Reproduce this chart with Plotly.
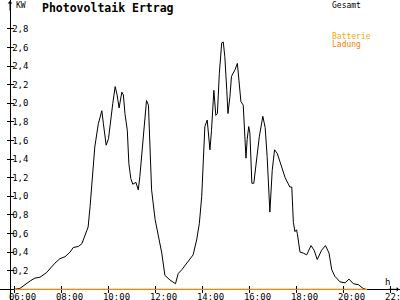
import plotly.graph_objects as go

# ---- data ----
zeit = ["06:00","06:14","06:40","06:52","07:05","07:22","07:43","07:56","08:09","08:22",
        "08:30","08:43","08:52","09:04","09:08","09:13","09:17","09:21","09:25","09:34",
        "09:43","09:47","09:54","10:00","10:04","10:11","10:17","10:22","10:27","10:34",
        "10:38","10:42","10:48","10:52","10:57","11:02","11:10","11:16","11:20","11:27",
        "11:33","11:37","11:42","11:46","11:50","11:59","12:07","12:16","12:24","12:37",
        "12:51","12:58","13:07","13:20","13:36","13:45","13:52","13:58","14:02","14:06",
        "14:12","14:19","14:23","14:26","14:29","14:34","14:38","14:43","14:49","14:53",
        "14:57","15:02","15:05","15:10","15:14","15:23","15:29","15:33","15:38","15:44",
        "15:48","15:51","15:54","15:58","16:01","16:06","16:11","16:18","16:25","16:34",
        "16:40","16:45","16:52","16:58","17:04","17:11","17:18","17:31","17:43","17:48",
        "17:52","17:56","18:00","18:02","18:09","18:17","18:26","18:37","18:45","18:53",
        "19:04","19:14","19:23","19:30","19:38","19:51","20:04","20:14","20:25","20:38",
        "20:50","20:57"]
gesamt = [0.00,0.01,0.09,0.12,0.13,0.18,0.28,0.33,0.35,0.40,
          0.45,0.46,0.49,0.62,0.67,0.89,1.10,1.32,1.53,1.78,
          1.92,1.78,1.55,1.62,1.78,2.00,2.18,2.09,1.95,2.12,
          2.09,1.89,1.71,1.35,1.19,1.13,1.15,1.07,1.21,1.53,
          1.86,2.03,1.98,1.53,1.07,0.75,0.57,0.39,0.15,0.10,
          0.06,0.17,0.21,0.28,0.37,0.53,0.71,1.00,1.35,1.75,
          1.82,1.50,1.71,1.93,2.14,1.87,1.89,2.32,2.65,2.66,
          2.50,2.14,1.89,2.07,2.29,2.36,2.43,2.25,2.02,1.98,
          1.71,1.41,1.61,1.75,1.68,1.14,1.14,1.41,1.64,1.86,
          1.74,1.43,0.83,1.28,1.50,1.46,1.36,1.20,1.10,1.10,
          0.72,0.62,0.64,0.60,0.40,0.39,0.37,0.47,0.42,0.32,
          0.42,0.47,0.39,0.21,0.14,0.08,0.07,0.11,0.06,0.05,
          0.01,0.00]

ladung_zeit = ["06:00", "21:00"]
ladung = [0.0, 0.0]

x_tickvals = [6, 8, 10, 12, 14, 16, 18, 20, 22]
x_ticktext = ["06:00","08:00","10:00","12:00","14:00","16:00","18:00","20:00","22:00"]
y_tickvals = [0.2,0.4,0.6,0.8,1.0,1.2,1.4,1.6,1.8,2.0,2.2,2.4,2.6,2.8]
y_ticktext = ["0,2","0,4","0,6","0,8","1,0","1,2","1,4","1,6","1,8","2,0","2,2","2,4","2,6","2,8"]


def to_h(t):
    h, m = t.split(":")
    return int(h) + int(m) / 60.0


FONT = "DejaVu Sans Mono"
XR = [5.383, 22.404]
YR = [-0.115, 3.111]
XPOS = 10 / 400
YPOS = 10.7 / 300

fig = go.Figure()
fig.add_trace(go.Scatter(x=[to_h(t) for t in zeit], y=gesamt, mode="lines",
                         line=dict(color="black", width=1), showlegend=False,
                         hoverinfo="skip"))
fig.add_trace(go.Scatter(x=[to_h(t) for t in ladung_zeit], y=ladung, mode="lines",
                         line=dict(color="#ff8000", width=1.3), showlegend=False,
                         hoverinfo="skip"))
# dummy trace to show overlay axes (inner half of crossing ticks)
fig.add_trace(go.Scatter(x=[6], y=[0], xaxis="x2", yaxis="y2", mode="markers",
                         marker=dict(opacity=0), showlegend=False, hoverinfo="skip"))

axfont = dict(family=FONT, size=9, color="black")
fig.update_layout(
    template="none",
    width=400, height=300,
    margin=dict(l=0, r=0, t=0, b=0, pad=0),
    paper_bgcolor="white", plot_bgcolor="white",
    xaxis=dict(range=XR, anchor="free", position=YPOS, showline=True,
               linecolor="black", linewidth=1, ticks="outside", ticklen=3,
               tickcolor="black", tickvals=x_tickvals, ticktext=x_ticktext,
               tickfont=axfont, ticklabelshift=8, ticklabelstandoff=-4,
               ticklabeloverflow="allow", automargin=False, layer="below traces",
               showgrid=False, zeroline=False, fixedrange=True),
    yaxis=dict(range=YR, anchor="free", position=XPOS, showline=True,
               linecolor="black", linewidth=1, ticks="outside", ticklen=3,
               tickcolor="black", tickvals=y_tickvals, ticktext=y_ticktext,
               tickfont=axfont, ticklabelposition="inside", automargin=False,
               ticklabeloverflow="allow", layer="below traces",
               showgrid=False, zeroline=False, fixedrange=True),
    xaxis2=dict(range=XR, overlaying="x", anchor="free", position=YPOS,
                showline=False, ticks="inside", ticklen=3, tickcolor="black",
                tickvals=x_tickvals, showticklabels=False, showgrid=False,
                zeroline=False, automargin=False),
    yaxis2=dict(range=YR, overlaying="y", anchor="free", position=XPOS,
                showline=False, ticks="inside", ticklen=3, tickcolor="black",
                tickvals=y_tickvals, showticklabels=False, showgrid=False,
                zeroline=False, automargin=False),
)

ann = [
    dict(text="<b>Photovoltaik Ertrag</b>", x=40, y=8, font=dict(family=FONT, size=11.5, color="black")),
    dict(text="KW", x=14, y=5, font=dict(family=FONT, size=8, color="black")),
    dict(text="Gesamt", x=330, y=5, font=dict(family=FONT, size=8, color="black")),
    dict(text="Batterie", x=330, y=36, font=dict(family=FONT, size=8, color="#ffa500")),
    dict(text="Ladung", x=330, y=44, font=dict(family=FONT, size=8, color="#ff8000")),
    dict(text="h", x=383, y=282, font=dict(family=FONT, size=9, color="black")),
]
for a in ann:
    fig.add_annotation(text=a["text"], xref="paper", yref="paper",
                       x=a["x"] / 400, y=1 - a["y"] / 300, xanchor="left",
                       yanchor="middle", showarrow=False, font=a["font"])

# axis arrow heads
fig.add_annotation(xref="paper", yref="paper", x=XPOS, y=1.0, ax=0, ay=12,
                   showarrow=True, arrowhead=1, arrowsize=0.8, arrowwidth=1,
                   arrowcolor="black", text="")
fig.add_annotation(xref="paper", yref="paper", x=399 / 400, y=YPOS, ax=-12, ay=0,
                   showarrow=True, arrowhead=1, arrowsize=0.8, arrowwidth=1,
                   arrowcolor="black", text="")

fig.write_html("out.html")
